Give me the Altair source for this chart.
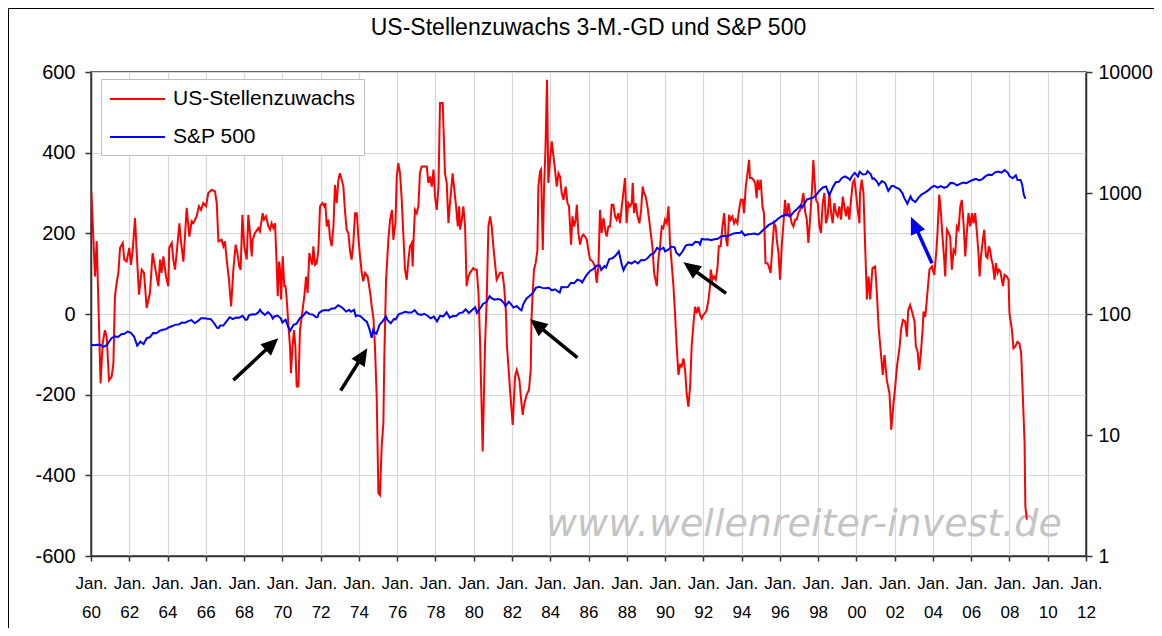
import altair as alt
import pandas as pd

FONT = "Liberation Sans"
TITLE = "US-Stellenzuwachs 3-M.-GD und S&P 500"
SERIES = ["US-Stellenzuwachs", "S&P 500"]
COLORS = ["#ff0000", "#0000ff"]
WATERMARK = "www.wellenreiter-invest.de"

# US job growth, 3-month average (thousands): (decimal year, value)
red_points = [
    (1960.02, 304), (1960.21, 93), (1960.30, 180), (1960.50, -172), (1960.61, -73), (1960.73, -40),
    (1960.82, -56), (1960.94, -164), (1961.08, -155), (1961.17, -122), (1961.25, 43), (1961.34, 77),
    (1961.43, 102), (1961.52, 164), (1961.66, 176), (1961.74, 135), (1961.86, 130), (1962.00, 164),
    (1962.09, 122), (1962.18, 159), (1962.30, 238), (1962.39, 151), (1962.51, 48), (1962.65, 110),
    (1962.77, 102), (1962.91, 15), (1963.08, 52), (1963.22, 151), (1963.34, 118), (1963.52, 69),
    (1963.61, 135), (1963.69, 102), (1963.78, 143), (1963.92, 93), (1964.04, 69), (1964.09, 164),
    (1964.22, 176), (1964.30, 135), (1964.39, 110), (1964.51, 168), (1964.62, 225), (1964.70, 180),
    (1964.83, 130), (1964.91, 192), (1965.00, 263), (1965.14, 192), (1965.26, 230), (1965.35, 225),
    (1965.52, 242), (1965.64, 267), (1965.75, 258), (1965.87, 275), (1966.01, 267), (1966.13, 300),
    (1966.31, 308), (1966.48, 304), (1966.57, 275), (1966.66, 180), (1966.83, 184), (1966.92, 168),
    (1967.00, 180), (1967.09, 135), (1967.21, 85), (1967.32, 19), (1967.44, 110), (1967.56, 172),
    (1967.65, 151), (1967.75, 118), (1967.82, 110), (1967.91, 246), (1968.01, 168), (1968.14, 135),
    (1968.22, 246), (1968.31, 201), (1968.40, 143), (1968.45, 184), (1968.57, 201), (1968.75, 213),
    (1968.83, 205), (1968.97, 250), (1969.04, 234), (1969.15, 242), (1969.27, 217), (1969.36, 209),
    (1969.44, 225), (1969.53, 213), (1969.62, 225), (1969.70, 126), (1969.76, 44), (1969.83, 130),
    (1969.88, 110), (1969.93, 36), (1970.02, 143), (1970.10, 69), (1970.17, 69), (1970.23, 36),
    (1970.31, -23), (1970.40, -81), (1970.45, -147), (1970.53, -81), (1970.61, -40), (1970.68, -81),
    (1970.75, -180), (1970.84, -180), (1970.92, -40), (1971.06, 11), (1971.15, 44), (1971.24, 93),
    (1971.32, 52), (1971.41, 151), (1971.48, 135), (1971.57, 122), (1971.62, 168), (1971.71, 122),
    (1971.79, 126), (1971.88, 155), (1971.97, 267), (1972.09, 275), (1972.19, 267), (1972.25, 275),
    (1972.32, 217), (1972.41, 234), (1972.49, 188), (1972.58, 168), (1972.67, 217), (1972.75, 320),
    (1972.84, 275), (1972.93, 333), (1973.01, 349), (1973.10, 333), (1973.19, 316), (1973.27, 258),
    (1973.36, 209), (1973.45, 201), (1973.54, 155), (1973.62, 135), (1973.71, 176), (1973.80, 250),
    (1973.89, 250), (1973.97, 192), (1974.06, 143), (1974.15, 102), (1974.23, 81), (1974.32, 102),
    (1974.46, 93), (1974.59, 52), (1974.67, 19), (1974.76, -10), (1974.84, -81), (1974.93, -205),
    (1975.02, -444), (1975.10, -449), (1975.19, -329), (1975.28, -271), (1975.33, -106), (1975.42, 84),
    (1975.54, 184), (1975.63, 234), (1975.73, 258), (1975.80, 184), (1975.91, 225), (1975.98, 341),
    (1976.06, 374), (1976.15, 349), (1976.24, 283), (1976.32, 201), (1976.41, 110), (1976.50, 85),
    (1976.59, 135), (1976.67, 168), (1976.76, 176), (1976.81, 118), (1976.85, 176), (1976.93, 258),
    (1977.02, 250), (1977.11, 267), (1977.19, 349), (1977.28, 366), (1977.37, 366), (1977.55, 366),
    (1977.63, 325), (1977.72, 341), (1977.81, 316), (1977.90, 358), (1977.98, 291), (1978.07, 258),
    (1978.16, 316), (1978.24, 523), (1978.38, 523), (1978.50, 349), (1978.59, 325), (1978.68, 225),
    (1978.76, 275), (1978.90, 349), (1978.97, 316), (1979.08, 267), (1979.17, 217), (1979.24, 267),
    (1979.29, 209), (1979.38, 234), (1979.46, 267), (1979.55, 217), (1979.63, 69), (1979.72, 93),
    (1979.81, 102), (1979.98, 114), (1980.07, 110), (1980.16, 110), (1980.25, 52), (1980.33, -64),
    (1980.47, -341), (1980.59, -81), (1980.68, 35), (1980.77, 217), (1980.86, 242), (1980.94, 217),
    (1981.06, 151), (1981.20, 85), (1981.38, 102), (1981.50, 102), (1981.59, 69), (1981.69, 2),
    (1981.73, -73), (1981.90, -188), (1982.04, -275), (1982.16, -155), (1982.25, -139), (1982.39, -164),
    (1982.48, -213), (1982.56, -250), (1982.65, -221), (1982.77, -200), (1982.89, -188), (1982.98, -139),
    (1983.02, -15), (1983.05, 19), (1983.15, 110), (1983.24, 126), (1983.33, 159), (1983.38, 316),
    (1983.47, 354), (1983.52, 358), (1983.61, 159), (1983.68, 316), (1983.75, 407), (1983.83, 581),
    (1983.90, 325), (1983.99, 382), (1984.08, 428), (1984.17, 391), (1984.25, 358), (1984.34, 316),
    (1984.43, 349), (1984.51, 341), (1984.60, 300), (1984.69, 283), (1984.81, 316), (1984.90, 275),
    (1984.98, 267), (1985.09, 172), (1985.16, 242), (1985.25, 217), (1985.33, 234), (1985.39, 271),
    (1985.47, 201), (1985.56, 172), (1985.65, 192), (1985.73, 197), (1985.82, 192), (1985.91, 184),
    (1985.99, 159), (1986.08, 135), (1986.22, 130), (1986.34, 118), (1986.43, 77), (1986.52, 118),
    (1986.60, 258), (1986.69, 201), (1986.78, 238), (1986.87, 209), (1986.95, 192), (1987.04, 217),
    (1987.13, 217), (1987.21, 271), (1987.30, 271), (1987.39, 242), (1987.47, 234), (1987.56, 250),
    (1987.65, 225), (1987.74, 267), (1987.82, 300), (1987.91, 337), (1987.99, 225), (1988.08, 275),
    (1988.17, 267), (1988.26, 275), (1988.31, 325), (1988.38, 250), (1988.47, 275), (1988.56, 242),
    (1988.66, 225), (1988.75, 258), (1988.83, 316), (1988.90, 300), (1988.99, 291), (1989.08, 267),
    (1989.17, 234), (1989.25, 201), (1989.34, 168), (1989.43, 102), (1989.50, 85), (1989.57, 69),
    (1989.65, 135), (1989.74, 168), (1989.83, 217), (1989.91, 213), (1990.00, 234), (1990.09, 225),
    (1990.18, 267), (1990.26, 176), (1990.33, 135), (1990.44, 69), (1990.52, 2), (1990.61, -81),
    (1990.70, -151), (1990.79, -126), (1990.87, -130), (1990.96, -110), (1991.05, -139), (1991.13, -197),
    (1991.22, -230), (1991.31, -180), (1991.39, -81), (1991.48, -27), (1991.57, 18), (1991.66, 2),
    (1991.74, 18), (1991.83, -2), (1991.92, -11), (1992.00, -2), (1992.09, 2), (1992.18, 10),
    (1992.27, 35), (1992.35, 68), (1992.39, 110), (1992.48, 85), (1992.56, 93), (1992.65, 85),
    (1992.74, 114), (1992.81, 168), (1992.91, 168), (1993.00, 217), (1993.09, 250), (1993.17, 192),
    (1993.26, 168), (1993.35, 246), (1993.43, 234), (1993.52, 242), (1993.61, 225), (1993.69, 234),
    (1993.78, 225), (1993.87, 258), (1993.96, 283), (1994.06, 283), (1994.13, 250), (1994.22, 316),
    (1994.31, 349), (1994.39, 382), (1994.44, 337), (1994.53, 337), (1994.62, 333), (1994.71, 325),
    (1994.79, 287), (1994.84, 333), (1994.91, 308), (1995.00, 333), (1995.09, 267), (1995.17, 250),
    (1995.25, 126), (1995.35, 126), (1995.42, 118), (1995.52, 102), (1995.61, 168), (1995.70, 225),
    (1995.78, 217), (1995.84, 184), (1995.93, 151), (1996.01, 85), (1996.10, 168), (1996.19, 225),
    (1996.27, 283), (1996.36, 242), (1996.45, 275), (1996.53, 250), (1996.62, 225), (1996.71, 217),
    (1996.80, 234), (1996.88, 234), (1996.97, 250), (1997.06, 258), (1997.14, 275), (1997.23, 300),
    (1997.32, 254), (1997.41, 234), (1997.49, 176), (1997.58, 234), (1997.67, 300), (1997.75, 382),
    (1997.81, 333), (1997.89, 283), (1997.98, 275), (1998.07, 217), (1998.15, 201), (1998.24, 275),
    (1998.33, 300), (1998.41, 225), (1998.50, 242), (1998.59, 300), (1998.68, 250), (1998.76, 225),
    (1998.85, 275), (1998.94, 250), (1999.02, 242), (1999.11, 267), (1999.20, 234), (1999.29, 291),
    (1999.37, 267), (1999.46, 242), (1999.55, 267), (1999.63, 234), (1999.72, 283), (1999.81, 325),
    (1999.90, 333), (1999.98, 300), (2000.07, 258), (2000.16, 225), (2000.19, 300), (2000.28, 333),
    (2000.37, 300), (2000.45, 180), (2000.55, 36), (2000.64, 93), (2000.72, 36), (2000.84, 114),
    (2000.98, 118), (2001.07, 52), (2001.16, -31), (2001.25, -81), (2001.38, -151), (2001.47, -102),
    (2001.59, -164), (2001.73, -197), (2001.82, -287), (2001.94, -221), (2002.03, -180), (2002.12, -130),
    (2002.26, -81), (2002.33, -40), (2002.43, -15), (2002.55, -19), (2002.64, -56), (2002.71, 10),
    (2002.81, 22), (2002.93, 2), (2003.04, -19), (2003.11, -81), (2003.20, -93), (2003.28, -139),
    (2003.37, -97), (2003.46, -40), (2003.51, 6), (2003.60, -7), (2003.68, 35), (2003.77, 84),
    (2003.82, 110), (2003.95, 118), (2004.07, 97), (2004.17, 151), (2004.24, 201), (2004.33, 296),
    (2004.42, 250), (2004.50, 192), (2004.59, 135), (2004.64, 93), (2004.73, 209), (2004.82, 201),
    (2004.90, 192), (2004.99, 110), (2005.08, 159), (2005.17, 151), (2005.25, 217), (2005.34, 209),
    (2005.43, 267), (2005.51, 283), (2005.60, 225), (2005.69, 143), (2005.77, 201), (2005.86, 250),
    (2005.95, 217), (2006.04, 250), (2006.12, 225), (2006.21, 250), (2006.30, 201), (2006.38, 151),
    (2006.44, 93), (2006.51, 143), (2006.59, 176), (2006.68, 209), (2006.77, 143), (2006.85, 139),
    (2006.92, 168), (2006.99, 159), (2007.06, 135), (2007.13, 122), (2007.22, 85), (2007.29, 126),
    (2007.38, 102), (2007.45, 110), (2007.52, 106), (2007.60, 85), (2007.66, 69), (2007.74, 97),
    (2007.86, 93), (2007.95, 85), (2008.00, 2), (2008.13, -40), (2008.21, -85), (2008.30, -81),
    (2008.42, -69), (2008.52, -73), (2008.61, -97), (2008.70, -205), (2008.79, -320), (2008.83, -477),
    (2008.91, -510),
]

# S&P 500 month-end levels (log scale, right axis): (YYYY-MM, value)
sp_points = [
    ("1960-01", 55.6), ("1960-03", 55.3), ("1960-05", 55.8), ("1960-07", 55.5), ("1960-09", 53.5),
    ("1960-11", 55.5), ("1960-12", 58.1), ("1961-02", 63.4), ("1961-04", 65.3), ("1961-06", 64.6),
    ("1961-08", 68.1), ("1961-10", 68.6), ("1961-12", 71.6), ("1962-02", 69.9), ("1962-04", 65.2),
    ("1962-06", 54.8), ("1962-08", 59.1), ("1962-10", 56.5), ("1962-12", 63.1), ("1963-02", 64.3),
    ("1963-04", 69.8), ("1963-06", 69.4), ("1963-08", 72.5), ("1963-10", 74.0), ("1963-12", 75.0),
    ("1964-02", 77.8), ("1964-04", 79.5), ("1964-06", 81.7), ("1964-08", 81.8), ("1964-10", 85.0),
    ("1964-12", 84.8), ("1965-02", 87.4), ("1965-04", 89.1), ("1965-06", 84.1), ("1965-08", 87.2),
    ("1965-10", 92.4), ("1965-12", 92.4), ("1966-02", 91.2), ("1966-04", 91.1), ("1966-06", 84.7),
    ("1966-08", 77.1), ("1966-09", 76.6), ("1966-10", 80.2), ("1966-12", 80.3), ("1967-02", 86.8),
    ("1967-04", 94.0), ("1967-06", 90.6), ("1967-08", 93.6), ("1967-10", 93.3), ("1967-12", 96.5),
    ("1968-02", 89.4), ("1968-03", 90.2), ("1968-04", 97.6), ("1968-06", 99.6), ("1968-08", 98.9),
    ("1968-10", 103.4), ("1968-11", 108.4), ("1968-12", 103.9), ("1969-02", 98.1), ("1969-04", 103.7),
    ("1969-06", 97.7), ("1969-07", 91.8), ("1969-08", 95.5), ("1969-10", 97.2), ("1969-12", 92.1),
    ("1970-01", 85.0), ("1970-03", 89.6), ("1970-05", 76.6), ("1970-06", 72.7), ("1970-08", 81.5),
    ("1970-10", 83.3), ("1970-12", 92.2), ("1971-02", 96.8), ("1971-04", 104.0), ("1971-06", 99.7),
    ("1971-08", 99.0), ("1971-10", 94.2), ("1971-11", 94.0), ("1971-12", 102.1), ("1972-02", 106.6),
    ("1972-04", 107.7), ("1972-06", 107.1), ("1972-08", 111.1), ("1972-10", 111.6), ("1972-12", 118.1),
    ("1973-01", 116.0), ("1973-03", 111.5), ("1973-05", 104.7), ("1973-07", 108.2), ("1973-08", 104.3),
    ("1973-10", 108.3), ("1973-11", 96.0), ("1973-12", 97.6), ("1974-02", 96.2), ("1974-04", 90.3),
    ("1974-06", 86.0), ("1974-07", 79.3), ("1974-08", 72.2), ("1974-09", 63.5), ("1974-10", 73.9),
    ("1974-11", 70.0), ("1974-12", 68.6), ("1975-02", 81.6), ("1975-04", 87.3), ("1975-06", 95.2),
    ("1975-07", 88.8), ("1975-09", 83.9), ("1975-11", 91.2), ("1975-12", 90.2), ("1976-02", 99.7),
    ("1976-04", 101.6), ("1976-06", 104.3), ("1976-08", 102.9), ("1976-10", 102.9), ("1976-12", 107.5),
    ("1977-02", 99.8), ("1977-04", 98.4), ("1977-06", 100.5), ("1977-08", 96.8), ("1977-10", 92.3),
    ("1977-12", 95.1), ("1978-02", 87.0), ("1978-04", 96.8), ("1978-06", 95.5), ("1978-08", 103.3),
    ("1978-10", 93.2), ("1978-12", 96.1), ("1979-02", 96.3), ("1979-04", 101.8), ("1979-06", 102.9),
    ("1979-08", 109.3), ("1979-10", 101.8), ("1979-12", 107.9), ("1980-02", 113.7), ("1980-03", 102.1),
    ("1980-05", 111.2), ("1980-07", 121.7), ("1980-09", 125.5), ("1980-11", 140.5), ("1980-12", 135.8),
    ("1981-02", 131.3), ("1981-04", 132.8), ("1981-06", 131.2), ("1981-08", 123.0), ("1981-09", 116.2),
    ("1981-11", 126.4), ("1981-12", 122.6), ("1982-02", 113.1), ("1982-04", 116.4), ("1982-06", 109.6),
    ("1982-07", 107.1), ("1982-08", 119.5), ("1982-10", 133.7), ("1982-12", 140.6), ("1983-02", 148.1),
    ("1983-04", 164.4), ("1983-06", 168.1), ("1983-08", 164.4), ("1983-10", 163.6), ("1983-12", 164.9),
    ("1984-02", 157.1), ("1984-04", 160.1), ("1984-06", 153.2), ("1984-07", 150.7), ("1984-08", 166.7),
    ("1984-10", 166.1), ("1984-12", 167.2), ("1985-02", 181.2), ("1985-04", 179.8), ("1985-06", 191.9),
    ("1985-08", 188.6), ("1985-09", 182.1), ("1985-11", 202.2), ("1985-12", 211.3), ("1986-02", 226.9),
    ("1986-04", 235.5), ("1986-06", 250.8), ("1986-08", 252.9), ("1986-09", 231.3), ("1986-11", 249.2),
    ("1986-12", 242.2), ("1987-02", 284.2), ("1987-04", 288.4), ("1987-06", 304.0), ("1987-08", 329.8),
    ("1987-10", 251.8), ("1987-11", 230.3), ("1987-12", 247.1), ("1988-02", 267.8), ("1988-04", 261.3),
    ("1988-06", 273.5), ("1988-08", 261.5), ("1988-10", 279.0), ("1988-12", 277.7), ("1989-02", 288.9),
    ("1989-04", 309.6), ("1989-06", 318.0), ("1989-08", 351.5), ("1989-10", 340.4), ("1989-12", 353.4),
    ("1990-01", 329.1), ("1990-03", 339.9), ("1990-05", 361.2), ("1990-07", 356.2), ("1990-08", 322.6),
    ("1990-10", 304.0), ("1990-12", 330.2), ("1991-02", 367.1), ("1991-04", 375.3), ("1991-06", 371.2),
    ("1991-08", 395.4), ("1991-10", 392.5), ("1991-11", 375.2), ("1991-12", 417.1), ("1992-02", 412.7),
    ("1992-04", 415.0), ("1992-06", 408.1), ("1992-08", 414.0), ("1992-10", 418.7), ("1992-12", 435.7),
    ("1993-02", 443.4), ("1993-04", 440.2), ("1993-06", 450.5), ("1993-08", 463.6), ("1993-10", 467.8),
    ("1993-12", 466.5), ("1994-01", 481.6), ("1994-03", 445.8), ("1994-05", 456.5), ("1994-07", 458.3),
    ("1994-09", 462.7), ("1994-11", 453.7), ("1994-12", 459.3), ("1995-02", 487.4), ("1995-04", 514.7),
    ("1995-06", 544.8), ("1995-08", 561.9), ("1995-10", 581.5), ("1995-12", 615.9), ("1996-02", 640.4),
    ("1996-04", 654.2), ("1996-06", 670.6), ("1996-07", 639.9), ("1996-08", 652.0), ("1996-10", 705.3),
    ("1996-12", 740.7), ("1997-02", 790.8), ("1997-03", 757.1), ("1997-04", 801.3), ("1997-06", 885.1),
    ("1997-08", 899.5), ("1997-10", 914.6), ("1997-12", 970.4), ("1998-02", 1049.3), ("1998-04", 1111.8),
    ("1998-06", 1133.8), ("1998-08", 957.3), ("1998-10", 1098.7), ("1998-12", 1229.2), ("1999-02", 1238.3),
    ("1999-04", 1335.2), ("1999-06", 1372.7), ("1999-08", 1320.4), ("1999-09", 1282.7), ("1999-10", 1362.9),
    ("1999-12", 1469.3), ("2000-02", 1366.4), ("2000-03", 1498.6), ("2000-05", 1420.6), ("2000-07", 1430.8),
    ("2000-08", 1517.7), ("2000-10", 1429.4), ("2000-11", 1315.2), ("2000-12", 1320.3), ("2001-02", 1239.9),
    ("2001-03", 1160.3), ("2001-05", 1255.8), ("2001-07", 1211.2), ("2001-09", 1040.9), ("2001-11", 1139.5),
    ("2001-12", 1148.1), ("2002-02", 1106.7), ("2002-04", 1076.9), ("2002-06", 989.8), ("2002-07", 911.6),
    ("2002-09", 815.3), ("2002-11", 936.3), ("2002-12", 879.8), ("2003-02", 841.2), ("2003-04", 916.9),
    ("2003-06", 974.5), ("2003-08", 1008.0), ("2003-10", 1050.7), ("2003-12", 1111.9), ("2004-02", 1145.0),
    ("2004-04", 1107.3), ("2004-06", 1140.8), ("2004-08", 1104.2), ("2004-10", 1130.2), ("2004-12", 1211.9),
    ("2005-02", 1203.6), ("2005-04", 1156.9), ("2005-06", 1191.3), ("2005-08", 1220.3), ("2005-10", 1207.0),
    ("2005-12", 1248.3), ("2006-02", 1280.7), ("2006-04", 1310.6), ("2006-06", 1270.2), ("2006-08", 1303.8),
    ("2006-10", 1377.9), ("2006-12", 1418.3), ("2007-02", 1406.8), ("2007-04", 1482.4), ("2007-06", 1503.4),
    ("2007-08", 1474.0), ("2007-10", 1549.4), ("2007-12", 1468.4), ("2008-01", 1378.6), ("2008-03", 1322.7),
    ("2008-05", 1400.4), ("2008-06", 1280.0), ("2008-08", 1282.8), ("2008-09", 1166.4), ("2008-10", 968.8),
    ("2008-11", 896.2),
]

# Annotation arrows, in chart units (decimal year, left-axis value)
arrow_tail_t = [1967.44, 1973.05, 1985.42, 1993.19, 2003.95]
arrow_tail_v = [-164, -190, -108, 51, 126]
arrow_tip_t = [1969.79, 1974.44, 1982.95, 1990.96, 2002.85]
arrow_tip_v = [-60, -85, -13, 128, 241]
arrow_angle = [47, 32, 309, 306, 336]
arrow_color = ["#000000", "#000000", "#000000", "#000000", "#0000ff"]

x_ticks = list(range(1960, 2013, 2))
left_ticks = [-600, -400, -200, 0, 200, 400, 600]
right_ticks = [1, 10, 100, 1000, 10000]

red_df = pd.DataFrame({"t": [p[0] for p in red_points], "v": [p[1] for p in red_points], "series": SERIES[0]})
sp_df = pd.DataFrame({
    "t": [int(d[:4]) + (int(d[5:7]) - 1) / 12 for d, _ in sp_points],
    "s": [p[1] for p in sp_points],
    "series": SERIES[1],
})
shaft = 0.8
arrow_df = pd.DataFrame({
    "t0": arrow_tail_t, "v0": arrow_tail_v,
    "t1": [a + shaft * (b - a) for a, b in zip(arrow_tail_t, arrow_tip_t)],
    "v1": [a + shaft * (b - a) for a, b in zip(arrow_tail_v, arrow_tip_v)],
    "tt": arrow_tip_t, "tv": arrow_tip_v, "ang": arrow_angle, "col": arrow_color,
})
one = pd.DataFrame({"k": [0]})


def x_axis():
    return alt.Axis(
        values=x_ticks, title=None, grid=True,
        labelExpr="['Jan.', slice(toString(datum.value), 2)]",
        labelFontSize=17, labelPadding=14, labelLineHeight=29, tickSize=5,
        labelOverlap=False, labelFlush=False, labelBound=False, labelAngle=0,
        labelAlign="center", labelBaseline="top",
    )


def x_enc(field):
    return alt.X(field, scale=alt.Scale(domain=[1960, 2012], nice=False, zero=False), axis=x_axis())


def yl_scale():
    return alt.Scale(domain=[-600, 600], nice=False, zero=False)


yl_axis = alt.Axis(
    orient="left", values=left_ticks, title=None, grid=True,
    labelExpr="toString(datum.value)", labelFontSize=20, tickSize=6, labelPadding=10,
)
yr_axis = alt.Axis(
    orient="right", values=right_ticks, title=None, grid=False,
    labelExpr="toString(datum.value)", labelFontSize=19.5, tickSize=6, labelPadding=6,
)

color = alt.Color(
    "series:N",
    scale=alt.Scale(domain=SERIES, range=COLORS),
    legend=alt.Legend(
        title=None, orient="none", legendX=10, legendY=7,
        symbolType="M-1,0L4,0", symbolSize=484, symbolStrokeWidth=2,
        labelFontSize=21, labelFont=FONT, labelColor="black", labelOffset=40,
        padding=8, rowPadding=16, fillColor="white", strokeColor="#bfbfbf",
        labelLimit=400,
    ),
)

watermark = alt.Chart(one).mark_text(
    text=WATERMARK, font="DejaVu Sans", fontStyle="italic", fontSize=38,
    color="#c4c4c4", align="left", baseline="alphabetic",
).encode(x=alt.value(455), y=alt.value(464))

red = alt.Chart(red_df).mark_line(strokeWidth=2, clip=True).encode(
    x=x_enc("t:Q"),
    y=alt.Y("v:Q", scale=yl_scale(), axis=yl_axis),
    color=color,
)

shafts = alt.Chart(arrow_df).mark_rule(strokeWidth=3.5).encode(
    x=x_enc("t0:Q"),
    x2="t1:Q",
    y=alt.Y("v0:Q", scale=yl_scale(), axis=None),
    y2="v1:Q",
    stroke=alt.Stroke("col:N", scale=None),
)

heads = alt.Chart(arrow_df).mark_point(
    shape="M0,0L0.9,2L-0.9,2Z", size=300, filled=True, opacity=1, strokeWidth=0,
).encode(
    x=x_enc("tt:Q"),
    y=alt.Y("tv:Q", scale=yl_scale(), axis=None),
    angle=alt.Angle("ang:Q", scale=None),
    fill=alt.Fill("col:N", scale=None),
)

blue = alt.Chart(sp_df).mark_line(strokeWidth=2, clip=True).encode(
    x=x_enc("t:Q"),
    y=alt.Y("s:Q", scale=alt.Scale(type="log", domain=[1, 10000], nice=False), axis=yr_axis),
    color=color,
)

frame = alt.Chart(one).mark_rect(fillOpacity=0, stroke="#000000", strokeWidth=1).encode(
    x=alt.value(-82.5), x2=alt.value(1080), y=alt.value(-63.5), y2=alt.value(700),
)

title = alt.Chart(one).mark_text(
    text=TITLE, font=FONT, fontSize=23, color="black", align="center", baseline="alphabetic",
).encode(x=alt.value(497.5), y=alt.value(-37))

chart = alt.layer(
    watermark, red, shafts, heads, blue, frame, title
).resolve_scale(
    y="independent"
).properties(
    width=995, height=484,
    padding={"left": 83, "top": 64, "right": 68, "bottom": 72},
    autosize=alt.AutoSizeParams(type="none"),
    background="white",
).configure_view(
    stroke="#333333", strokeWidth=1.5,
).configure_axis(
    labelFont=FONT, labelColor="black", domainColor="#333333", domainWidth=1.5,
    tickColor="#333333", tickWidth=1.5, gridColor="#d6d6d6", gridWidth=1.2,
)

chart.save("out.html", embed_options={"renderer": "svg", "actions": False})
